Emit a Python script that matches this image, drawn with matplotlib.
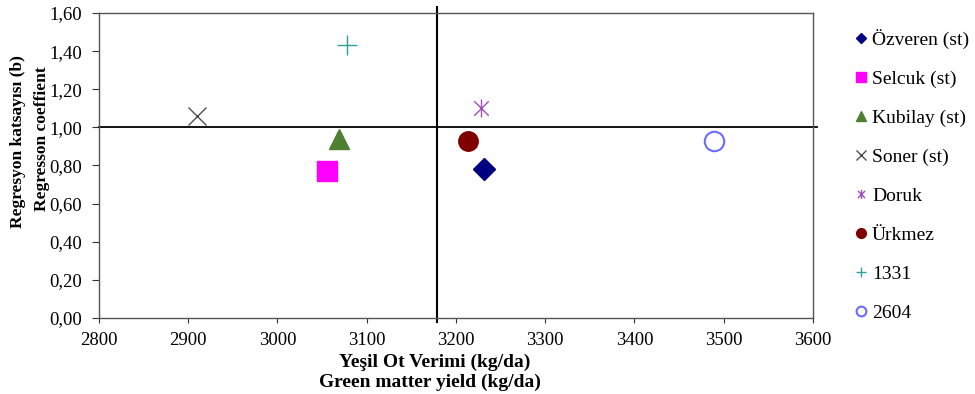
import matplotlib
matplotlib.use("Agg")
import matplotlib.pyplot as plt
from matplotlib.path import Path
from matplotlib.ticker import FuncFormatter

plt.rcParams['font.family'] = ['Liberation Serif', 'DejaVu Serif']

# genotypes: green matter yield (kg/da) vs regression coefficient (b)
cultivars = ["Özveren (st)", "Selcuk (st)", "Kubilay (st)", "Soner (st)",
             "Doruk", "Ürkmez", "1331", "2604"]
yield_kg = [3231, 3055, 3069, 2910, 3228, 3213, 3078, 3489]
reg_coef = [0.78, 0.77, 0.94, 1.06, 1.10, 0.93, 1.43, 0.93]

# general means used for the quadrant lines
mean_yield = 3179
mean_b = 1.00

# Excel style star: an X with a vertical bar through it
star = Path([(-1, -1), (1, 1), (-1, 1), (1, -1), (0, -1.25), (0, 1.25)],
            [Path.MOVETO, Path.LINETO, Path.MOVETO, Path.LINETO,
             Path.MOVETO, Path.LINETO])

styles = [
    dict(marker='D', color='#000080', ms=11),
    dict(marker='s', color='#FF00FF', ms=14),
    dict(marker='^', color='#4F7F33', ms=14),
    dict(marker='x', color='#505050', ms=13, mew=1.0),
    dict(marker=star, color='#A050B8', ms=13, mew=1.0),
    dict(marker='o', color='#800000', ms=14),
    dict(marker='+', color='#339C9C', ms=14, mew=1.0),
    dict(marker='o', color='#6B6BFF', ms=14, mfc='none', mew=1.5),
]

fig = plt.figure(figsize=(9.75, 3.94), dpi=100)
ax = fig.add_axes([0.1015, 0.193, 0.7323, 0.774])

handles = []
for name, x, y, st in zip(cultivars, yield_kg, reg_coef, styles):
    st = dict(st)
    ms = st.pop('ms')
    h, = ax.plot([x], [y], linestyle='none', markersize=ms, label=name,
                 clip_on=False, **st)
    handles.append(h)

# quadrant lines through the means
ax.plot([2800, 3605], [mean_b, mean_b], color='black', lw=1.3, clip_on=False)
ax.plot([mean_yield, mean_yield], [-0.02, 1.63], color='black', lw=1.5,
        clip_on=False)

ax.set_xlim(2800, 3600)
ax.set_ylim(0, 1.6)
ax.set_xticks(range(2800, 3601, 100))
ax.set_yticks([i * 0.2 for i in range(9)])
ax.yaxis.set_major_formatter(FuncFormatter(lambda v, p: f"{v:.2f}".replace('.', ',')))
ax.tick_params(direction='out', width=0.8, labelsize=13.5,
               colors='#333333', labelcolor='black')
ax.tick_params(axis='y', length=5, pad=7)
ax.tick_params(axis='x', length=3.5, pad=6.5)
for sp in ax.spines.values():
    sp.set_color('#555555')
    sp.set_linewidth(1.0)

fig.text(0.446, 0.080, "Yeşil Ot Verimi (kg/da)", ha='center', va='center',
         fontsize=14, fontweight='bold')
fig.text(0.441, 0.030, "Green matter yield (kg/da)", ha='center', va='center',
         fontsize=14, fontweight='bold')
fig.text(0.018, 0.64, "Regresyon katsayısı (b)", ha='center', va='center',
         rotation=90, fontsize=12.5, fontweight='bold')
fig.text(0.043, 0.647, "Regresson coeffient", ha='center', va='center',
         rotation=90, fontsize=12.5, fontweight='bold')

leg = fig.legend(handles=handles, loc='upper left',
                 bbox_to_anchor=(0.8705, 0.946), frameon=False, fontsize=14,
                 markerscale=0.5, handlelength=0.5, handletextpad=0.3,
                 labelspacing=1.1, borderaxespad=0)

fig.savefig("out.png", dpi=100)
